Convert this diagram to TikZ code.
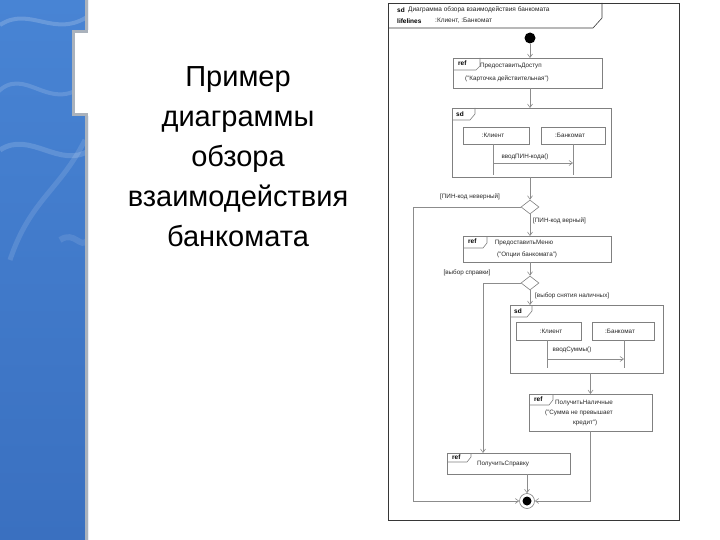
\documentclass[tikz,border=0pt]{standalone}
\usepackage{fontspec}
\setmainfont{Liberation Sans}
\usetikzlibrary{arrows.meta,shapes.geometric}
\definecolor{bluetop}{RGB}{72,132,212}
\definecolor{bluebot}{RGB}{58,112,192}
\definecolor{edgec}{RGB}{170,178,188}
\definecolor{boxc}{RGB}{128,128,128}
\definecolor{linec}{RGB}{140,140,140}
\definecolor{framec}{RGB}{55,55,55}
\tikzset{
  box/.style={draw=boxc, line width=0.6pt, rectangle, inner sep=0pt, outer sep=0pt},
  conn/.style={draw=linec, line width=0.6pt},
  arr/.style={conn, -{Straight Barb[length=3.5pt,width=5pt]}},
  dtext/.style={font=\fontsize{6.3}{7.5}\selectfont, inner sep=0pt, text=black!85},
  kw/.style={font=\fontsize{6.5}{7.5}\selectfont\bfseries, inner sep=0pt},
  title/.style={font=\fontsize{29}{40}\selectfont, inner sep=0pt, anchor=base},
  dia/.style={draw=boxc, line width=0.6pt, diamond, inner sep=0pt, minimum width=18pt, minimum height=14pt, fill=white}
}
\begin{document}
\begin{tikzpicture}[x=1pt,y=-1pt]
\useasboundingbox (0,0) rectangle (720,540);
% left blue band
\shade[top color=bluetop, bottom color=bluebot] (0,0) -- (88,0) -- (88,30) -- (72,30) -- (72,116) -- (88,116) -- (88,540) -- (0,540) -- cycle;
\begin{scope}
\clip (0,0) -- (88,0) -- (88,30) -- (72,30) -- (72,116) -- (88,116) -- (88,540) -- (0,540) -- cycle;
\draw[white, opacity=0.18, line width=4pt] (0,25) .. controls (30,5) and (55,40) .. (90,15);
\draw[white, opacity=0.15, line width=4pt] (-5,95) .. controls (25,60) and (50,120) .. (90,80);
\draw[white, opacity=0.15, line width=5pt] (0,150) .. controls (30,130) and (60,170) .. (90,150);
\draw[white, opacity=0.12, line width=5pt] (10,260) .. controls (30,200) and (60,190) .. (85,140);
\draw[white, opacity=0.10, line width=6pt] (60,240) .. controls (75,230) and (80,250) .. (88,240);
\end{scope}
\draw[edgec, line width=3pt] (86.5,0) -- (86.5,31.5) -- (73.5,31.5) -- (73.5,114.5) -- (86.5,114.5) -- (86.5,540);

% title
\node[title] (t1) at (238,87) {Пример};
\node[title] (t2) at (238,127) {диаграммы};
\node[title] (t3) at (238,167) {обзора};
\node[title] (t4) at (238,207) {взаимодействия};
\node[title] (t5) at (238,247) {банкомата};

% frame
\draw[framec, line width=0.8pt] (388,3) rectangle (679,520);
\draw[framec, line width=0.6pt] (388,28) -- (593,28) -- (602,18) -- (602,3);
\node[kw, anchor=west] (hsd) at (397,10) {sd};
\node[dtext, anchor=west, font=\fontsize{6.5}{7.5}\selectfont] (htitle) at (408,10) {Диаграмма обзора взаимодействия банкомата};
\node[kw, anchor=west] (hlf) at (397,21) {lifelines};
\node[dtext, anchor=west, font=\fontsize{6.5}{7.5}\selectfont] (hll) at (435,21) {:Клиент, :Банкомат};

% initial
\node[circle, fill=black, minimum size=11pt, inner sep=0pt] (init) at (530,38) {};

% ref1
\node[box, minimum width=149pt, minimum height=30pt] (ref1) at (527.5,73) {};
\draw[box] (453,70) -- (476,70) -- (480,66) -- (480,58);
\node[kw, anchor=west] (r1k) at (458,63.5) {ref};
\node[dtext] (r1a) at (511,66) {ПредоставитьДоступ};
\node[dtext] (r1b) at (507,79) {("Карточка действительная")};

% sd1
\node[box, minimum width=159pt, minimum height=69pt] (sd1) at (531.5,142.5) {};
\draw[box] (452,120) -- (470,120) -- (475,114) -- (475,108);
\node[kw, anchor=west] (s1k) at (456,114) {sd};
\node[box, minimum width=66pt, minimum height=17pt] (cl1) at (496,135.5) {};
\node[dtext] (cl1t) at (493,135.5) {:Клиент};
\node[box, minimum width=64pt, minimum height=17pt] (bk1) at (573,135.5) {};
\node[dtext] (bk1t) at (570,135.5) {:Банкомат};
\coordinate (ll1) at (493,175);
\coordinate (lb1) at (573,175);
\draw[conn] (ll1 |- cl1.south) -- (ll1);
\draw[conn] (lb1 |- bk1.south) -- (lb1);
\coordinate (m1s) at (493,163);
\coordinate (m1e) at (573,163);
\draw[arr] (m1s) -- (m1e);
\node[dtext] (m1t) at (525,157) {вводПИН-кода()};

% decision 1
\node[dia] (d1) at (530,207) {};
\node[dtext] (g1) at (470,197) {[ПИН-код неверный]};
\node[dtext, anchor=west] (g2) at (533,221) {[ПИН-код верный]};

% ref2
\node[box, minimum width=148pt, minimum height=26pt] (ref2) at (537,249) {};
\draw[box] (463,248) -- (483,248) -- (487,243) -- (487,236);
\node[kw, anchor=west] (r2k) at (468,241.5) {ref};
\node[dtext] (r2a) at (524,243) {ПредоставитьМеню};
\node[dtext] (r2b) at (527,254.5) {("Опции банкомата")};

% decision 2
\node[dia] (d2) at (530,283) {};
\node[dtext] (g3) at (467,273) {[выбор справки]};
\node[dtext, anchor=west] (g4) at (535,296) {[выбор снятия наличных]};

% sd2
\node[box, minimum width=153pt, minimum height=68pt] (sd2) at (586.5,339) {};
\draw[box] (510,317) -- (527,317) -- (532,311) -- (532,305);
\node[kw, anchor=west] (s2k) at (514,311) {sd};
\node[box, minimum width=65pt, minimum height=18pt] (cl2) at (548.5,331) {};
\node[dtext] (cl2t) at (551,331) {:Клиент};
\node[box, minimum width=62pt, minimum height=18pt] (bk2) at (623,331) {};
\node[dtext] (bk2t) at (620,331) {:Банкомат};
\coordinate (ll2) at (547,368);
\coordinate (lb2) at (624,368);
\draw[conn] (ll2 |- cl2.south) -- (ll2);
\draw[conn] (lb2 |- bk2.south) -- (lb2);
\coordinate (m2s) at (547,359);
\coordinate (m2e) at (624,359);
\draw[arr] (m2s) -- (m2e);
\node[dtext] (m2t) at (572,350) {вводСуммы()};

% ref3
\node[box, minimum width=123pt, minimum height=37pt] (ref3) at (590.5,412.5) {};
\draw[box] (529,405) -- (549,405) -- (553,400) -- (553,394);
\node[kw, anchor=west] (r3k) at (534,399.5) {ref};
\node[dtext, anchor=west] (r3a) at (555,402.5) {ПолучитьНаличные};
\node[dtext, anchor=west] (r3b) at (545,413) {("Сумма не превышает};
\node[dtext, anchor=west] (r3c) at (573,423) {кредит")};

% ref4
\node[box, minimum width=123pt, minimum height=21pt] (ref4) at (508.5,463.5) {};
\draw[box] (447,462) -- (467,462) -- (471,457) -- (471,453);
\node[kw, anchor=west] (r4k) at (452,457.5) {ref};
\node[dtext] (r4a) at (503,464) {ПолучитьСправку};

% final
\node[circle, draw=boxc, line width=0.6pt, fill=white, minimum size=15pt, inner sep=0pt] (fin) at (527,501) {};
\node[circle, fill=black, minimum size=9pt, inner sep=0pt] (finc) at (fin.center) {};

% connectors
\draw[arr] (init.south) -- (init.south |- ref1.north);
\draw[arr] (ref1.south -| init) -- (sd1.north -| init);
\draw[arr] (sd1.south -| d1) -- (d1.north);
\coordinate (lp) at (413,207);
\draw[arr] (d1.west) -- (lp) |- (fin.west);
\draw[arr] (d1.south) -- (ref2.north -| d1);
\draw[arr] (ref2.south -| d2) -- (d2.north);
\coordinate (b2) at (483,283);
\draw[arr] (d2.west) -- (b2) -- (b2 |- ref4.north);
\draw[arr] (d2.south) -- (sd2.north -| d2);
\draw[arr] (sd2.south -| ref3.north) -- (ref3.north);
\draw[arr] (ref3.south) |- (fin.east);
\draw[arr] (ref4.south -| fin) -- (fin.north);
\end{tikzpicture}
\end{document}
